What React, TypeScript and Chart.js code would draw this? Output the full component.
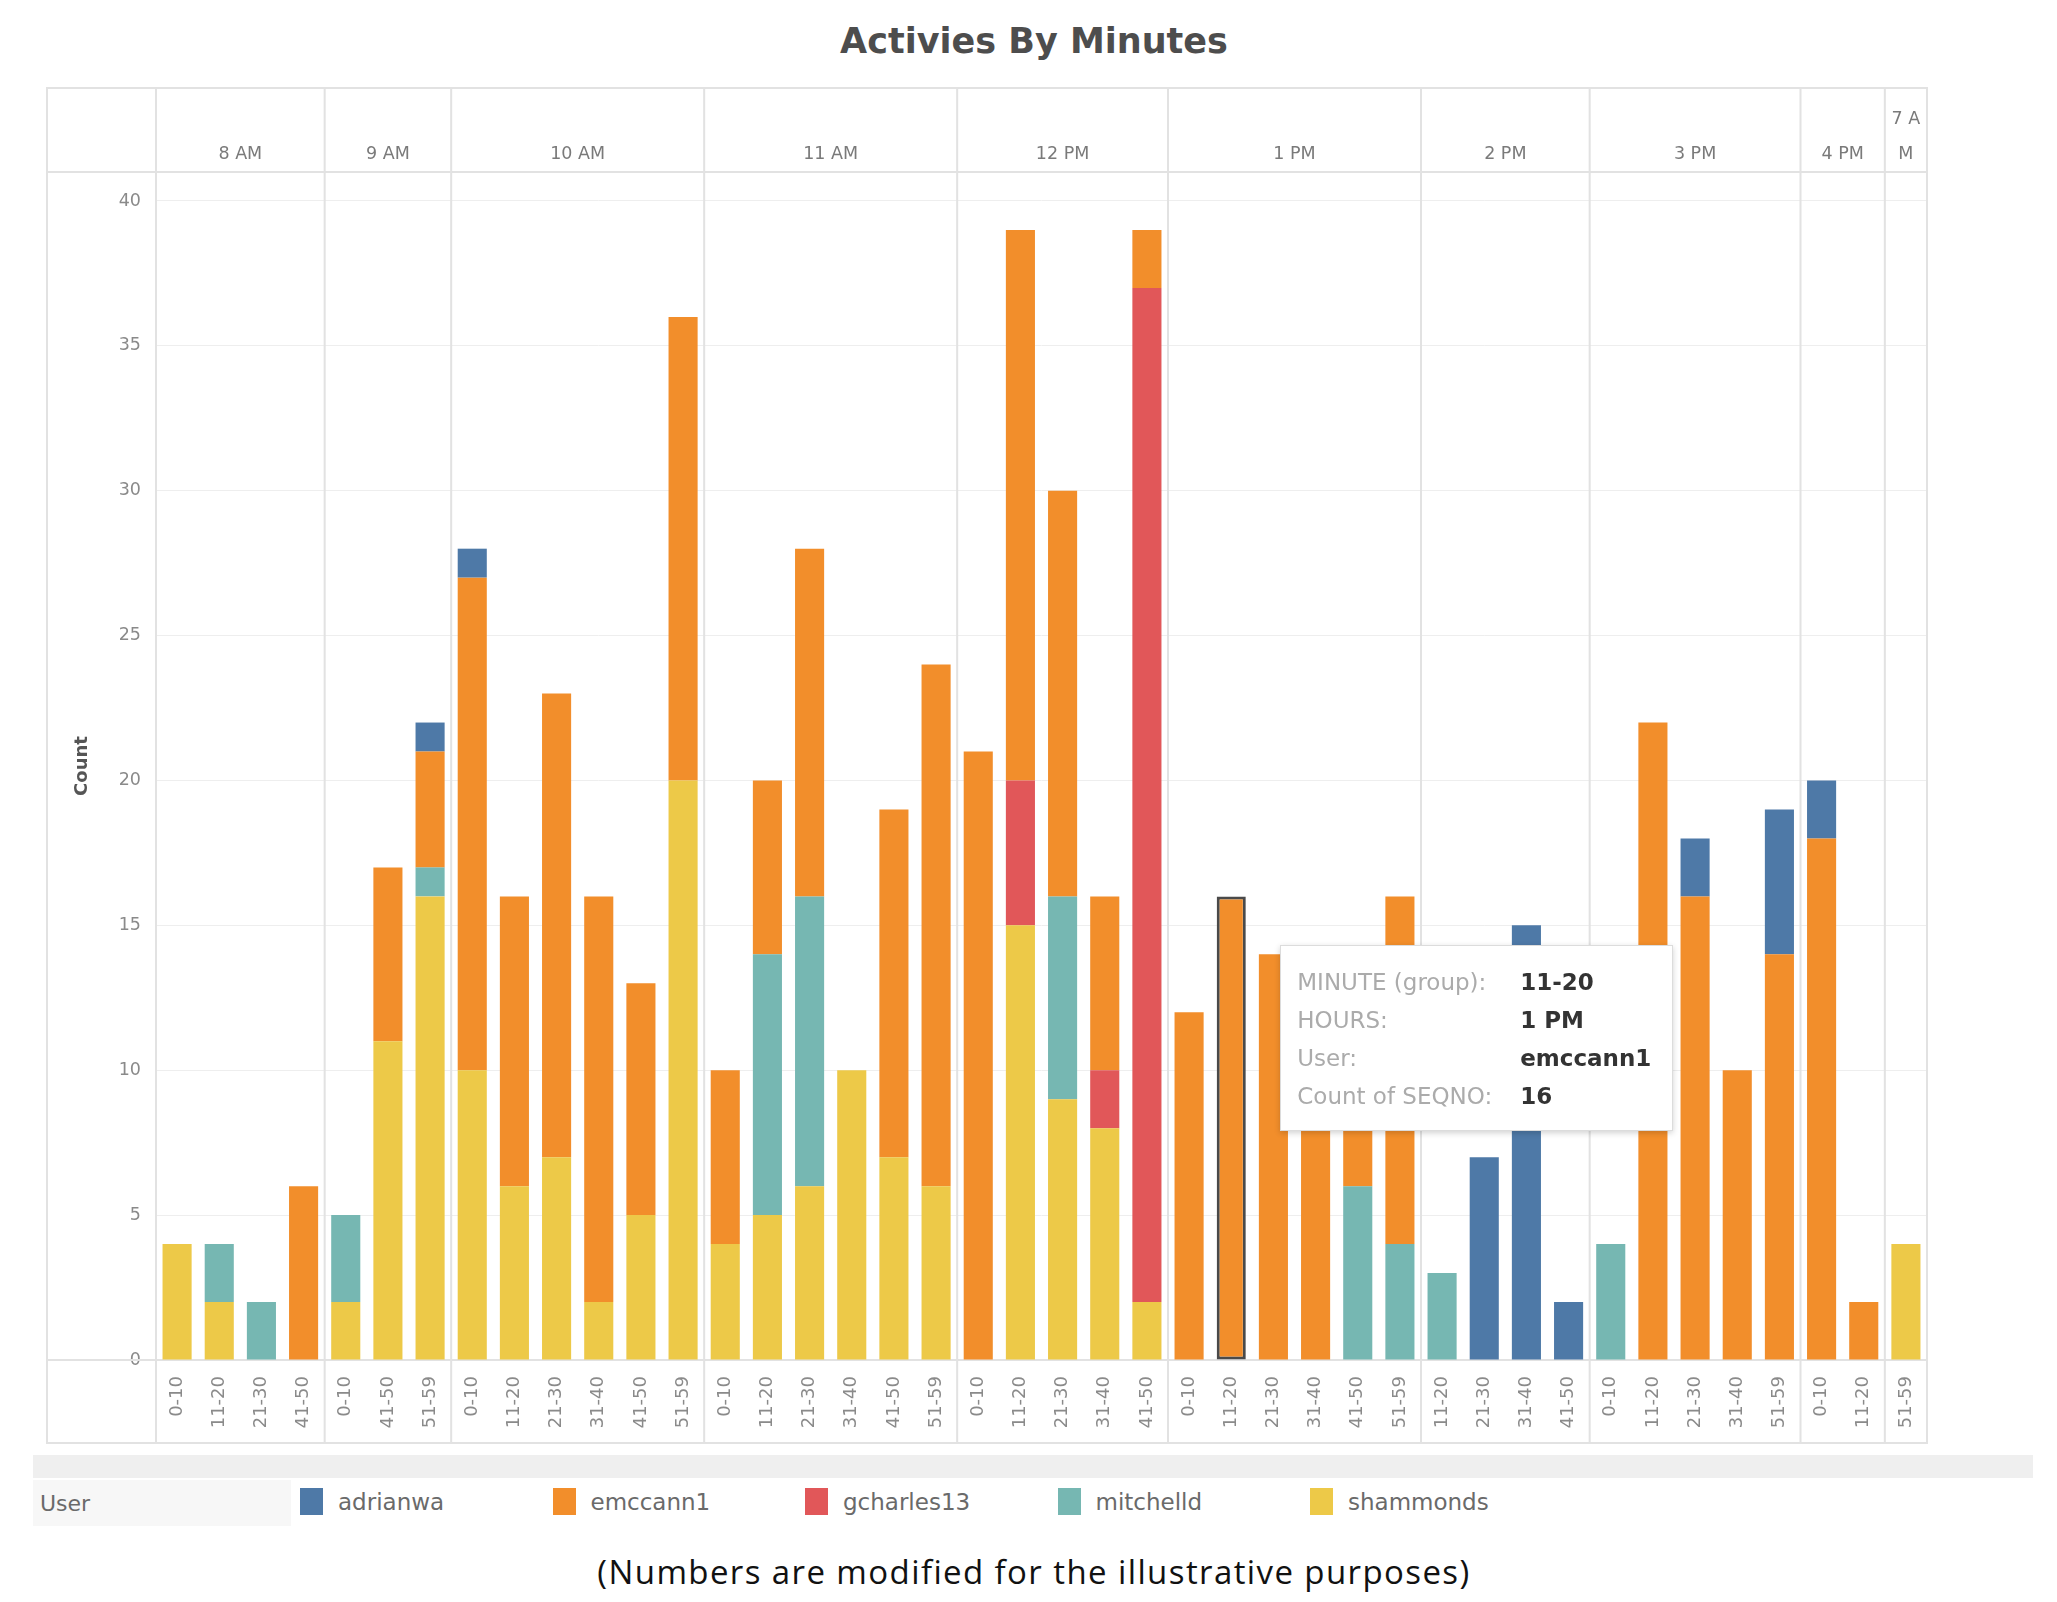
import React, { useEffect, useRef } from 'react';
import { Chart, registerables } from 'chart.js';

Chart.register(...registerables);

// ---------------- data ----------------
const chartTitle = 'Activies By Minutes';
const footNote = '(Numbers are modified for the illustrative purposes)';
const yAxisTitle = 'Count';
const legendTitle = 'User';

const minuteLabels = [
  '0-10', '11-20', '21-30', '41-50',
  '0-10', '41-50', '51-59',
  '0-10', '11-20', '21-30', '31-40', '41-50', '51-59',
  '0-10', '11-20', '21-30', '31-40', '41-50', '51-59',
  '0-10', '11-20', '21-30', '31-40', '41-50',
  '0-10', '11-20', '21-30', '31-40', '41-50', '51-59',
  '11-20', '21-30', '31-40', '41-50',
  '0-10', '11-20', '21-30', '31-40', '51-59',
  '0-10', '11-20',
  '51-59',
];

const hourLabels = [
  '8 AM', '8 AM', '8 AM', '8 AM',
  '9 AM', '9 AM', '9 AM',
  '10 AM', '10 AM', '10 AM', '10 AM', '10 AM', '10 AM',
  '11 AM', '11 AM', '11 AM', '11 AM', '11 AM', '11 AM',
  '12 PM', '12 PM', '12 PM', '12 PM', '12 PM',
  '1 PM', '1 PM', '1 PM', '1 PM', '1 PM', '1 PM',
  '2 PM', '2 PM', '2 PM', '2 PM',
  '3 PM', '3 PM', '3 PM', '3 PM', '3 PM',
  '4 PM', '4 PM',
  '7 AM',
];

const shammonds = [4, 2, 0, 0, 2, 11, 16, 10, 6, 7, 2, 5, 20, 4, 5, 6, 10, 7, 6, 0, 15, 9, 8, 2, 0, 0, 0, 0, 0, 0, 0, 0, 0, 0, 0, 0, 0, 0, 0, 0, 0, 4];
const mitchelld = [0, 2, 2, 0, 3, 0, 1, 0, 0, 0, 0, 0, 0, 0, 9, 10, 0, 0, 0, 0, 0, 7, 0, 0, 0, 0, 0, 0, 6, 4, 3, 0, 0, 0, 4, 0, 0, 0, 0, 0, 0, 0];
const gcharles13 = [0, 0, 0, 0, 0, 0, 0, 0, 0, 0, 0, 0, 0, 0, 0, 0, 0, 0, 0, 0, 5, 0, 2, 35, 0, 0, 0, 0, 0, 0, 0, 0, 0, 0, 0, 0, 0, 0, 0, 0, 0, 0];
const emccann1 = [0, 0, 0, 6, 0, 6, 4, 17, 10, 16, 14, 8, 16, 6, 6, 12, 0, 12, 18, 21, 19, 14, 6, 2, 12, 16, 14, 13, 7, 12, 0, 0, 0, 0, 0, 22, 16, 10, 14, 18, 2, 0];
const adrianwa = [0, 0, 0, 0, 0, 0, 1, 1, 0, 0, 0, 0, 0, 0, 0, 0, 0, 0, 0, 0, 0, 0, 0, 0, 0, 0, 0, 0, 0, 0, 0, 7, 15, 2, 0, 0, 2, 0, 5, 2, 0, 0];

const yTickValues = [0, 5, 10, 15, 20, 25, 30, 35, 40];

// legend order (first = leftmost); stacking order is the reverse
const legendOrder = ['adrianwa', 'emccann1', 'gcharles13', 'mitchelld', 'shammonds'];
const stackOrder = ['shammonds', 'mitchelld', 'gcharles13', 'emccann1', 'adrianwa'];

const seriesColors: Record<string, string> = {
  adrianwa: '#4e79a7',
  emccann1: '#f28e2b',
  gcharles13: '#e15759',
  mitchelld: '#76b7b2',
  shammonds: '#edc948',
};

const tooltipFields = ['MINUTE (group):', 'HOURS:', 'User:', 'Count of SEQNO:'];
const highlightedUser = 'emccann1';
const highlightedIndex = 25;

// ---------------- layout / style ----------------
const FONT = "'DejaVu Sans', 'Liberation Sans', sans-serif";
const CANVAS_W = 2057;
const CANVAS_H = 1460;
const FRAME_LEFT = 47;
const FRAME_TOP = 88;
const PLOT_LEFT = 156;
const PLOT_RIGHT = 1927;
const PLOT_TOP = 172;
const PLOT_BOTTOM = 1360;
const FRAME_BOTTOM = 1443;
const LINE_COLOR = '#e2e2e2';

function wrapText(ctx: CanvasRenderingContext2D, text: string, maxW: number): string[] {
  if (ctx.measureText(text).width <= maxW) return [text];
  const lines: string[] = [];
  let cur = '';
  for (const ch of text) {
    if (cur && ctx.measureText(cur + ch).width > maxW) {
      lines.push(cur.trimEnd());
      cur = ch.trimStart();
    } else {
      cur += ch;
    }
  }
  if (cur) lines.push(cur);
  return lines;
}

const framePlugin = {
  id: 'tableauFrame',
  beforeDatasetsDraw(chart: any) {
    const { ctx, chartArea } = chart;
    const x = chart.scales.x;
    const n = hourLabels.length;
    const half = (x.getPixelForValue(1) - x.getPixelForValue(0)) / 2;

    // groups of consecutive equal hour labels
    const groups: { label: string; start: number; end: number }[] = [];
    hourLabels.forEach((h, i) => {
      const last = groups[groups.length - 1];
      if (last && last.label === h) last.end = i;
      else groups.push({ label: h, start: i, end: i });
    });

    ctx.save();
    ctx.strokeStyle = LINE_COLOR;
    ctx.lineWidth = 2;
    ctx.strokeRect(FRAME_LEFT, FRAME_TOP, chartArea.right - FRAME_LEFT, FRAME_BOTTOM - FRAME_TOP);
    ctx.beginPath();
    ctx.moveTo(FRAME_LEFT, chartArea.top);
    ctx.lineTo(chartArea.right, chartArea.top);
    ctx.moveTo(FRAME_LEFT, chartArea.bottom);
    ctx.lineTo(chartArea.right, chartArea.bottom);
    ctx.moveTo(chartArea.left, FRAME_TOP);
    ctx.lineTo(chartArea.left, FRAME_BOTTOM);
    ctx.stroke();

    ctx.beginPath();
    groups.forEach((g) => {
      if (g.end < n - 1) {
        const bx = x.getPixelForValue(g.end) + half;
        ctx.moveTo(bx, FRAME_TOP);
        ctx.lineTo(bx, FRAME_BOTTOM);
      }
    });
    ctx.stroke();

    ctx.fillStyle = '#7a7a7a';
    ctx.font = `17.5px ${FONT}`;
    ctx.textAlign = 'center';
    ctx.textBaseline = 'middle';
    const baseY = 154;
    groups.forEach((g) => {
      const l = x.getPixelForValue(g.start) - half;
      const r = x.getPixelForValue(g.end) + half;
      const lines = wrapText(ctx, g.label, r - l - 6);
      lines.forEach((line, k) => {
        const yy = baseY - (lines.length - 1 - k) * 35;
        ctx.fillText(line, (l + r) / 2, yy);
      });
    });
    ctx.restore();
  },
};

export default function App() {
  const canvasRef = useRef<HTMLCanvasElement | null>(null);
  const tipRef = useRef<HTMLDivElement | null>(null);

  useEffect(() => {
    const canvas = canvasRef.current;
    if (!canvas) return;
    const seriesData: Record<string, number[]> = { shammonds, mitchelld, gcharles13, emccann1, adrianwa };

    const datasets = stackOrder.map((name) => ({
      label: name,
      data: seriesData[name],
      backgroundColor: seriesColors[name],
      hoverBackgroundColor: seriesColors[name],
      borderWidth: 0,
      hoverBorderWidth: 3,
      hoverBorderColor: '#4a4a4a',
      borderSkipped: false as const,
      categoryPercentage: 1,
      barPercentage: 0.69,
      stack: 'users',
    }));

    const chart = new Chart(canvas, {
      type: 'bar',
      data: { labels: minuteLabels, datasets },
      plugins: [framePlugin],
      options: {
        responsive: false,
        animation: false,
        events: [],
        layout: {
          padding: {
            left: FRAME_LEFT,
            top: PLOT_TOP,
            right: CANVAS_W - PLOT_RIGHT,
            bottom: CANVAS_H - FRAME_BOTTOM,
          },
        },
        font: { family: FONT },
        plugins: {
          legend: { display: false },
          title: { display: false },
          tooltip: {
            enabled: false,
            mode: 'nearest',
            external: (context: any) => {
              const el = tipRef.current;
              const { tooltip } = context;
              if (!el) return;
              if (!tooltip || tooltip.opacity === 0 || !tooltip.dataPoints || !tooltip.dataPoints.length) {
                el.style.opacity = '0';
                return;
              }
              const dp = tooltip.dataPoints[0];
              const values = [
                minuteLabels[dp.dataIndex],
                hourLabels[dp.dataIndex],
                dp.dataset.label,
                String(dp.raw),
              ];
              el.innerHTML = tooltipFields
                .map(
                  (f, i) =>
                    `<div style="color:#ababab">${f}</div><div style="color:#333;font-weight:bold">${values[i]}</div>`
                )
                .join('');
              const elem = dp.element;
              el.style.left = `${canvas.offsetLeft + elem.x + 49}px`;
              el.style.top = `${canvas.offsetTop + elem.y + 49}px`;
              el.style.opacity = '1';
            },
          },
        },
        scales: {
          x: {
            stacked: true,
            grid: { display: false },
            border: { display: false },
            ticks: {
              autoSkip: false,
              maxRotation: 90,
              minRotation: 90,
              padding: 8,
              color: '#8a8a8a',
              font: { family: FONT, size: 18 },
            },
            afterFit: (s: any) => {
              s.height = FRAME_BOTTOM - PLOT_BOTTOM;
            },
          },
          y: {
            stacked: true,
            min: 0,
            max: 41,
            afterBuildTicks: (s: any) => {
              s.ticks = yTickValues.map((v) => ({ value: v }));
            },
            grid: { color: '#eeeeee', lineWidth: 1, drawTicks: false },
            border: { display: false },
            ticks: {
              padding: 15,
              color: '#8a8a8a',
              font: { family: FONT, size: 17.5 },
            },
            title: {
              display: true,
              text: yAxisTitle,
              color: '#555555',
              font: { family: FONT, size: 18, weight: 'bold' },
              padding: { top: 25, bottom: 0 },
            },
            afterFit: (s: any) => {
              s.width = PLOT_LEFT - FRAME_LEFT;
            },
          },
        },
      } as any,
    });

    const dsIndex = stackOrder.indexOf(highlightedUser);
    const active = [{ datasetIndex: dsIndex, index: highlightedIndex }];
    chart.setActiveElements(active);
    const el: any = chart.getDatasetMeta(dsIndex).data[highlightedIndex];
    if (chart.tooltip) chart.tooltip.setActiveElements(active, { x: el.x, y: el.y });
    chart.update();

    return () => {
      chart.destroy();
    };
  }, []);

  return (
    <div
      style={{
        position: 'absolute',
        left: 0,
        top: 0,
        width: 2057,
        height: 1602,
        overflow: 'hidden',
        background: '#ffffff',
        fontFamily: FONT,
      }}
    >
      <div
        style={{
          position: 'absolute',
          left: 0,
          top: 21,
          width: 2068,
          textAlign: 'center',
          fontSize: 35,
          lineHeight: '40px',
          fontWeight: 'bold',
          color: '#4d4d4d',
        }}
      >
        {chartTitle}
      </div>
      <canvas
        ref={canvasRef}
        width={CANVAS_W}
        height={CANVAS_H}
        style={{ position: 'absolute', left: 0, top: 0, width: CANVAS_W, height: CANVAS_H }}
      />
      <div
        ref={tipRef}
        style={{
          position: 'absolute',
          opacity: 0,
          width: 393,
          height: 186,
          boxSizing: 'border-box',
          background: '#ffffff',
          border: '1px solid #dcdcdc',
          boxShadow: '0 2px 6px rgba(0,0,0,0.18)',
          padding: '17px 16px',
          display: 'grid',
          gridTemplateColumns: '223px auto',
          fontSize: 23,
          lineHeight: '38px',
          whiteSpace: 'nowrap',
          pointerEvents: 'none',
        }}
      />
      <div
        style={{ position: 'absolute', left: 33, top: 1455, width: 2000, height: 23, background: '#efefef' }}
      />
      <div
        style={{
          position: 'absolute',
          left: 33,
          top: 1480,
          width: 258,
          height: 46,
          background: '#f7f7f7',
          display: 'flex',
          alignItems: 'center',
          paddingLeft: 7,
          boxSizing: 'border-box',
          fontSize: 22,
          color: '#6a6a6a',
        }}
      >
        {legendTitle}
      </div>
      {legendOrder.map((name, i) => (
        <div
          key={name}
          style={{
            position: 'absolute',
            left: 300 + i * 252.5,
            top: 1488,
            height: 27,
            display: 'flex',
            alignItems: 'center',
            fontSize: 23,
            color: '#6a6a6a',
            whiteSpace: 'nowrap',
          }}
        >
          <span style={{ display: 'inline-block', width: 23, height: 27, background: seriesColors[name], marginRight: 15 }} />
          <span>{name}</span>
        </div>
      ))}
      <div
        style={{
          position: 'absolute',
          left: 0,
          top: 1550,
          width: 2068,
          textAlign: 'center',
          fontFamily: "'Open Sans', sans-serif",
          fontSize: 33,
          lineHeight: '44px',
          letterSpacing: '1.4px',
          color: '#111111',
        }}
      >
        {footNote}
      </div>
    </div>
  );
}
